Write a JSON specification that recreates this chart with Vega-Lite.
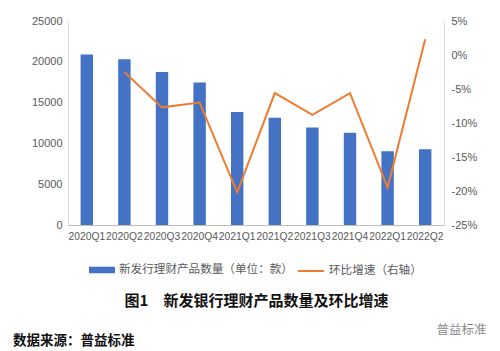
{
  "$schema": "https://vega.github.io/schema/vega-lite/v6.json",
  "width": 376,
  "height": 204,
  "autosize": {"type": "none"},
  "padding": {"left": 68, "top": 21, "right": 56, "bottom": 126},
  "background": "white",
  "config": {"view": {"stroke": null}, "font": "Noto Sans CJK SC"},
  "title": {
    "text": "数据来源：普益标准",
    "orient": "bottom",
    "anchor": "start",
    "frame": "group",
    "dx": -55,
    "offset": -2,
    "fontSize": 13.5,
    "fontWeight": "bold",
    "color": "#111111",
    "font": "Noto Sans CJK SC"
  },
  "data": {
    "values": [
      {"q": "2020Q1", "n": 20900, "g": null},
      {"q": "2020Q2", "n": 20300, "g": -2.5},
      {"q": "2020Q3", "n": 18750, "g": -7.7},
      {"q": "2020Q4", "n": 17450, "g": -7.0},
      {"q": "2021Q1", "n": 13850, "g": -20.2},
      {"q": "2021Q2", "n": 13150, "g": -5.6},
      {"q": "2021Q3", "n": 11950, "g": -8.8},
      {"q": "2021Q4", "n": 11300, "g": -5.6},
      {"q": "2022Q1", "n": 9030, "g": -19.5},
      {"q": "2022Q2", "n": 9280, "g": 2.3}
    ]
  },
  "encoding": {
    "x": {
      "field": "q",
      "type": "nominal",
      "sort": null,
      "scale": {"paddingInner": 0.67, "paddingOuter": 0.335},
      "axis": {
        "title": "图1　新发银行理财产品数量及环比增速",
        "titleFont": "Noto Sans CJK SC",
        "titleFontSize": 15,
        "titleFontWeight": "bold",
        "titleColor": "#111111",
        "titleY": 75,
        "titleBaseline": "middle",
        "labelAngle": 0,
        "labelFont": "Liberation Sans",
        "labelFontSize": 10.3,
        "labelColor": "#595959",
        "labelPadding": 6,
        "ticks": false,
        "domainColor": "#bfbfbf",
        "labelOverlap": false,
        "labelBound": false
      }
    }
  },
  "layer": [
    {
      "mark": {"type": "bar"},
      "encoding": {
        "y": {
          "field": "n",
          "type": "quantitative",
          "scale": {"domain": [0, 25000], "nice": false},
          "axis": {
            "values": [0, 5000, 10000, 15000, 20000, 25000],
            "format": "d",
            "title": null,
            "ticks": false,
            "grid": false,
            "domainColor": "#d9d9d9",
            "labelColor": "#595959",
            "labelFont": "Liberation Sans",
            "labelFontSize": 11,
            "labelPadding": 6
          }
        },
        "fill": {
          "datum": "新发行理财产品数量（单位：款）",
          "scale": {"range": ["#4472C4"]},
          "legend": {
            "orient": "none",
            "legendX": 21,
            "legendY": 236,
            "title": null,
            "padding": 0,
            "symbolType": "M-1,-0.25H1V0.25H-1Z",
            "symbolSize": 676,
            "symbolStrokeWidth": 0,
            "labelOffset": 4,
            "labelFont": "Noto Sans CJK SC",
            "labelFontSize": 11.6,
            "labelColor": "#595959",
            "labelLimit": 300
          }
        }
      }
    },
    {
      "transform": [{"filter": "datum.g != null"}],
      "mark": {"type": "line", "strokeWidth": 2},
      "encoding": {
        "y": {
          "field": "g",
          "type": "quantitative",
          "scale": {"domain": [-25, 5], "nice": false, "zero": false},
          "axis": {
            "orient": "right",
            "values": [-25, -20, -15, -10, -5, 0, 5],
            "labelExpr": "datum.value + '%'",
            "ticks": false,
            "grid": false,
            "domainColor": "#d9d9d9",
            "labelColor": "#595959",
            "labelFont": "Liberation Sans",
            "labelFontSize": 11,
            "labelPadding": 7,
            "title": "普益标准",
            "titleAngle": 0,
            "titleX": -8,
            "titleY": 308,
            "titleAlign": "left",
            "titleBaseline": "middle",
            "titleFont": "Noto Sans CJK SC",
            "titleFontSize": 12.5,
            "titleFontWeight": "normal",
            "titleColor": "#8c8c8c"
          }
        },
        "stroke": {
          "datum": "环比增速（右轴）",
          "scale": {"range": ["#ED7D31"]},
          "legend": {
            "orient": "none",
            "legendX": 229,
            "legendY": 236,
            "title": null,
            "padding": 0,
            "symbolType": "stroke",
            "symbolSize": 676,
            "symbolStrokeWidth": 2,
            "labelOffset": 4,
            "labelFont": "Noto Sans CJK SC",
            "labelFontSize": 11.6,
            "labelColor": "#595959",
            "labelLimit": 300
          }
        }
      }
    }
  ],
  "resolve": {"scale": {"y": "independent"}}
}
